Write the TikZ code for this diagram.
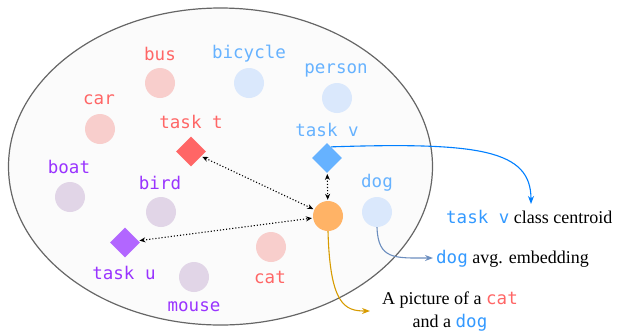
\documentclass[tikz,border=0pt]{standalone}
\usepackage{fontspec}
\setmainfont{Liberation Serif}
\setmonofont{DejaVu Sans Mono}
\usetikzlibrary{arrows.meta,shapes.geometric}
\definecolor{redlab}{HTML}{FF6666}
\definecolor{redfill}{HTML}{F8CECC}
\definecolor{bluelab}{HTML}{66B2FF}
\definecolor{bluefill}{HTML}{DAE8FC}
\definecolor{purplab}{HTML}{9933FF}
\definecolor{purpfill}{HTML}{E1D5E7}
\definecolor{purpdia}{HTML}{B266FF}
\definecolor{orangefill}{HTML}{FFB366}
\definecolor{outblue}{HTML}{3399FF}
\definecolor{arrblue}{HTML}{007FFF}
\definecolor{arrsteel}{HTML}{6C8EBF}
\definecolor{arrgold}{HTML}{D79B00}
\definecolor{ellfill}{HTML}{FBFBFB}
\definecolor{ellline}{HTML}{666666}
\begin{document}
\begin{tikzpicture}[x=1pt,y=-1pt,
  dot/.style={circle,minimum size=30pt,inner sep=0pt,draw=none},
  dia/.style={diamond,minimum width=30pt,minimum height=30pt,inner sep=0pt,draw=none},
  lab/.style={inner sep=0pt,font=\fontsize{17.5}{20}\ttfamily},
  rtext/.style={inner sep=0pt,font=\fontsize{18}{23}\selectfont,align=center},
  dotarrow/.style={dotted,line width=1.1pt,{Stealth[length=6pt,width=5pt]}-{Stealth[length=6pt,width=5pt]},shorten <=1pt,shorten >=1pt},
  curvearrow/.style={line width=1.1pt,-{Stealth[length=8pt,width=6pt]}}]
\useasboundingbox (0,0) rectangle (617,330);
\draw[ellline,fill=ellfill,line width=1.2pt] (220.5,166.5) ellipse [x radius=212, y radius=158.5];
% circles
\node[dot,fill=redfill] (bus) at (160,83) {};
\node[dot,fill=bluefill] (bicycle) at (249,83) {};
\node[dot,fill=bluefill] (person) at (337,98) {};
\node[dot,fill=redfill] (car) at (100,129) {};
\node[dot,fill=purpfill] (boat) at (70,197) {};
\node[dot,fill=purpfill] (bird) at (161,212) {};
\node[dot,fill=purpfill] (mouse) at (194,277) {};
\node[dot,fill=redfill] (cat) at (271,247) {};
\node[dot,fill=bluefill] (dog) at (377,212) {};
\node[dot,fill=orangefill] (img) at (328,216) {};
% diamonds
\node[dia,fill=redlab] (tt) at (191,151.5) {};
\node[dia,fill=bluelab] (tv) at (327,158) {};
\node[dia,fill=purpdia] (tu) at (125,242.5) {};
% labels
\node[lab,text=redlab] (lbus) at (160,54) {bus};
\node[lab,text=bluelab] (lbicycle) at (249,54) {bicycle};
\node[lab,text=bluelab] (lperson) at (336,70) {person};
\node[lab,text=redlab] (lcar) at (99,100) {car};
\node[lab,text=redlab] (ltt) at (191,122) {task t};
\node[lab,text=bluelab] (ltv) at (327,130) {task v};
\node[lab,text=purplab] (lboat) at (69,167) {boat};
\node[lab,text=purplab] (lbird) at (160,183) {bird};
\node[lab,text=purplab] (ltu) at (124,273) {task u};
\node[lab,text=purplab] (lmouse) at (194,307) {mouse};
\node[lab,text=redlab] (lcat) at (270,277) {cat};
\node[lab,text=bluelab] (ldog) at (377,183) {dog};
% right texts
\node[rtext,anchor=base west] (centroid) at (446,223.5) {{\fontsize{17.5}{20}\ttfamily\color{outblue}task v} class centroid};
\node[rtext,anchor=base west] (avg) at (436,263.5) {{\fontsize{17.5}{20}\ttfamily\color{outblue}dog} avg. embedding};
\node[rtext,anchor=base] (cap1) at (450,304) {A picture of a {\fontsize{17.5}{20}\ttfamily\color{redlab}cat}};
\node[rtext,anchor=base] (cap2) at (450,327) {and a {\fontsize{17.5}{20}\ttfamily\color{outblue}dog}};
\coordinate (centroidtip) at (531,204);
\coordinate (avgtip) at (433,258);
\coordinate (captip) at (370,311);
% dotted arrows
\draw[dotarrow] (tt) -- (img);
\draw[dotarrow] (tu) -- (img);
\draw[dotarrow] (tv) -- (img);
% curved arrows
\draw[curvearrow,arrblue] (tv.70) .. controls (480,142) and (531,150) .. (centroidtip);
\draw[curvearrow,arrsteel] (dog.south) .. controls (378,260) and (395,258) .. (avgtip);
\draw[curvearrow,arrgold] (img.south) .. controls (330,305) and (345,311) .. (captip);
\end{tikzpicture}
\end{document}
